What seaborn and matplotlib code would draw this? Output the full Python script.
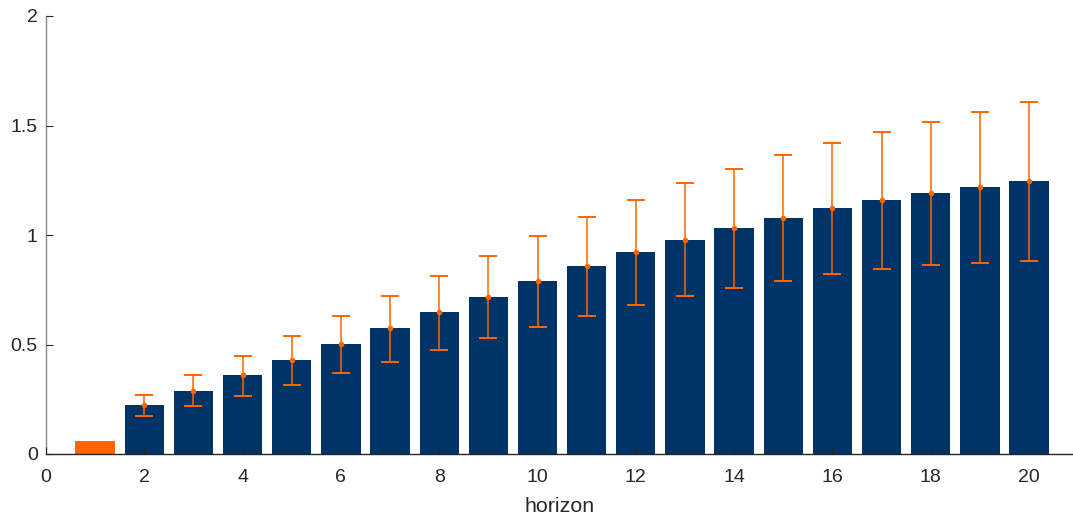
import matplotlib
matplotlib.use("Agg")
import matplotlib.pyplot as plt
import matplotlib.ticker as mticker
import seaborn as sns
import pandas as pd
import numpy as np

horizon = list(range(1, 21))
value = [0.059, 0.222, 0.289, 0.359, 0.429, 0.501, 0.574, 0.647, 0.718, 0.790,
         0.857, 0.921, 0.979, 1.033, 1.079, 1.122, 1.158, 1.190, 1.219, 1.245]
upper = [None, 0.271, 0.361, 0.449, 0.539, 0.630, 0.723, 0.814, 0.906, 0.995,
         1.081, 1.160, 1.236, 1.303, 1.365, 1.420, 1.470, 1.517, 1.562, 1.606]
lower = [None, 0.172, 0.218, 0.266, 0.317, 0.368, 0.420, 0.475, 0.528, 0.581,
         0.632, 0.679, 0.723, 0.760, 0.792, 0.822, 0.843, 0.861, 0.874, 0.883]
group = ["first"] + ["rest"] * 19

NAVY = "#003366"
ORANGE = "#FF6600"

sns.set_theme(style="white")
plt.rcParams["font.family"] = ["Liberation Sans", "DejaVu Sans"]

df = pd.DataFrame({"horizon": horizon, "value": value, "group": group})

fig = plt.figure(figsize=(10.73, 5.17), dpi=100)
ax = fig.add_axes([46 / 1073, 1 - 454 / 517, 1 - 46 / 1073, (454 - 16) / 517])

sns.barplot(data=df, x="horizon", y="value", hue="group", native_scale=True,
            palette={"first": ORANGE, "rest": NAVY}, dodge=False, width=0.8,
            legend=False, ax=ax, linewidth=0, saturation=1)

ex = np.array(horizon[1:], dtype=float)
ev = np.array(value[1:])
eu = np.array(upper[1:])
el = np.array(lower[1:])
ax.errorbar(ex, ev, yerr=[ev - el, eu - ev], fmt="o", color=ORANGE,
            ms=3, elinewidth=1.1, capsize=6.5, capthick=1.4, zorder=5)

ax.set_xlim(0, (1073 - 46) / 49.15)
ax.set_ylim(0, 2)
ax.set_xticks([0, 2, 4, 6, 8, 10, 12, 14, 16, 18, 20])
ax.set_yticks([0, 0.5, 1, 1.5, 2])
ax.yaxis.set_major_formatter(mticker.FormatStrFormatter("%g"))
ax.set_xlabel("horizon", fontsize=15.4, color="#262626", labelpad=8)
ax.set_ylabel("")

for s in ["top", "right"]:
    ax.spines[s].set_visible(False)
ax.spines["left"].set_color("#8a8a8a")
ax.spines["bottom"].set_color("#262626")
ax.spines["left"].set_linewidth(1.0)
ax.spines["bottom"].set_linewidth(1.0)
ax.tick_params(axis="both", which="major", bottom=True, left=True,
               direction="in", length=5, width=0.8,
               labelsize=14, colors="#262626", pad=8)
ax.tick_params(axis="x", pad=11)
ax.tick_params(axis="y", pad=6)
ax.set_axisbelow(False)
ax.set_facecolor("white")

fig.savefig("out.png", dpi=100)
